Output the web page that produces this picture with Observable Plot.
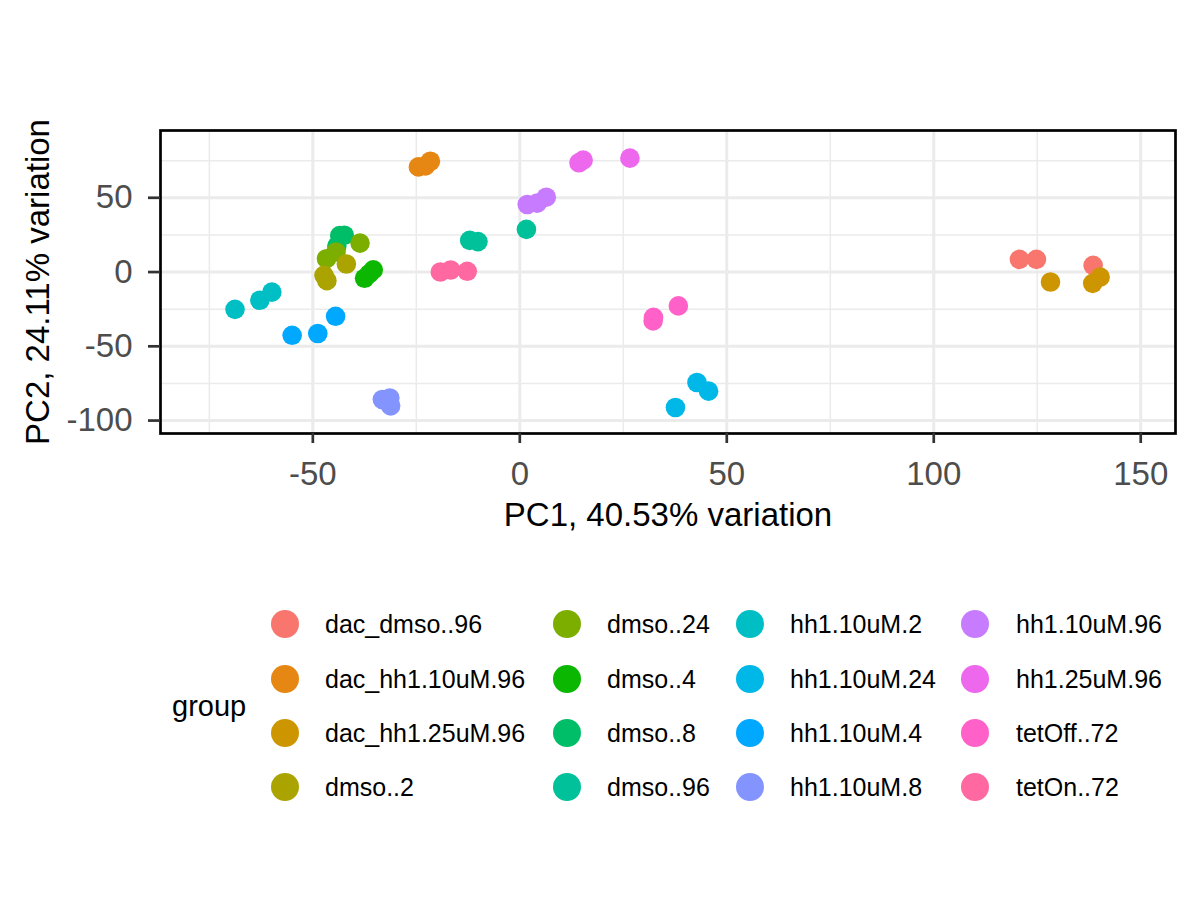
<!DOCTYPE html>
<html>
<head>
<meta charset="utf-8">
<script src="https://cdn.jsdelivr.net/npm/d3@7"></script>
<script src="https://cdn.jsdelivr.net/npm/@observablehq/plot@0.6"></script>
<style>
  html, body { margin: 0; padding: 0; background: white; }
  body { width: 1200px; height: 900px; overflow: hidden; font-family: "Liberation Sans", Arial, sans-serif; }
  #legend { position: relative; width: 1200px; height: 340px; }
  .lg-dot { position: absolute; width: 28px; height: 28px; border-radius: 50%; transform: translate(-50%, -50%); }
  .lg-txt { position: absolute; font-size: 25px; line-height: 25px; transform: translateY(-50%); color: black; white-space: nowrap; }
  .lg-title { position: absolute; font-size: 29px; line-height: 29px; transform: translateY(-50%); color: black; }
</style>
</head>
<body>
<div id="chart"></div>
<div id="legend"></div>
<script>
// ---- data ----
const groups = [
  "dac_dmso..96", "dac_hh1.10uM.96", "dac_hh1.25uM.96", "dmso..2",
  "dmso..24", "dmso..4", "dmso..8", "dmso..96",
  "hh1.10uM.2", "hh1.10uM.24", "hh1.10uM.4", "hh1.10uM.8",
  "hh1.10uM.96", "hh1.25uM.96", "tetOff..72", "tetOn..72"
];
const groupColors = [
  "#F8766D", "#E68613", "#CD9600", "#ABA300",
  "#7CAE00", "#0CB702", "#00BE67", "#00C19A",
  "#00BFC4", "#00B8E7", "#00A9FF", "#8494FF",
  "#C77CFF", "#ED68ED", "#FF61C9", "#FF68A1"
];
const sampleGroup = [
  "dac_dmso..96", "dac_dmso..96", "dac_dmso..96",
  "dac_hh1.10uM.96", "dac_hh1.10uM.96", "dac_hh1.10uM.96",
  "dac_hh1.25uM.96", "dac_hh1.25uM.96", "dac_hh1.25uM.96",
  "dmso..8", "dmso..8", "dmso..8",
  "dmso..24", "dmso..24", "dmso..24",
  "dmso..2", "dmso..2", "dmso..2",
  "dmso..4", "dmso..4", "dmso..4",
  "dmso..96", "dmso..96", "dmso..96",
  "hh1.10uM.2", "hh1.10uM.2", "hh1.10uM.2",
  "hh1.10uM.24", "hh1.10uM.24", "hh1.10uM.24",
  "hh1.10uM.4", "hh1.10uM.4", "hh1.10uM.4",
  "hh1.10uM.8", "hh1.10uM.8", "hh1.10uM.8",
  "hh1.10uM.96", "hh1.10uM.96", "hh1.10uM.96",
  "hh1.25uM.96", "hh1.25uM.96", "hh1.25uM.96",
  "tetOff..72", "tetOff..72", "tetOff..72",
  "tetOn..72", "tetOn..72", "tetOn..72"
];
const pc1 = [
  120.7, 124.8, 138.5,
  -24.5, -22.8, -21.6,
  128.2, 138.4, 140.2,
  -43.5, -42.4, -44.2,
  -46.7, -44.4, -38.6,
  -47.3, -46.6, -41.9,
  -37.5, -36.4, -35.4,
  -12.1, -10.1, 1.6,
  -68.8, -62.8, -59.9,
  37.6, 42.8, 45.6,
  -55.0, -48.8, -44.5,
  -33.2, -31.4, -31.2,
  1.8, 4.2, 6.4,
  14.3, 15.3, 26.6,
  32.3, 32.2, 38.3,
  -19.2, -16.7, -12.7
];
const pc2 = [
  8.5, 8.5, 4.5,
  70.8, 71.5, 74.6,
  -6.7, -7.6, -3.4,
  24.5, 24.8, 17.5,
  9.0, 13.5, 19.5,
  -2.2, -5.8, 5.4,
  -4.2, -1.2, 1.5,
  21.3, 20.5, 28.7,
  -25.1, -19.0, -13.5,
  -91.2, -74.4, -80.2,
  -42.6, -41.4, -29.8,
  -85.8, -84.8, -90.1,
  45.5, 46.4, 50.4,
  73.6, 75.4, 76.7,
  -30.5, -32.9, -22.8,
  0.0, 1.4, 0.5
];
const xMajor = [-50, 0, 50, 100, 150];
const xMinor = [-75, -25, 25, 75, 125];
const yMajor = [-100, -50, 0, 50];
const yMinor = [-75, -25, 25, 75];
const xLabel = "PC1, 40.53% variation";
const yLabel = "PC2, 24.11% variation";
const legendTitle = "group";

const samples = pc1.map((x, i) => ({x, y: pc2[i], group: sampleGroup[i]}));

const FONT = "'Liberation Sans', Arial, sans-serif";

const chart = Plot.plot({
  width: 1200,
  height: 560,
  marginLeft: 160,
  marginRight: 25,
  marginTop: 130,
  marginBottom: 127,
  style: {fontFamily: FONT, background: "white", overflow: "visible"},
  x: {domain: [-86.8, 158.4], axis: null},
  y: {domain: [-108.7, 95.3], axis: null},
  color: {domain: groups, range: groupColors},
  marks: [
    Plot.ruleX(xMinor, {stroke: "#EBEBEB", strokeWidth: 1.5}),
    Plot.ruleY(yMinor, {stroke: "#EBEBEB", strokeWidth: 1.5}),
    Plot.ruleX(xMajor, {stroke: "#EBEBEB", strokeWidth: 3}),
    Plot.ruleY(yMajor, {stroke: "#EBEBEB", strokeWidth: 3}),
    Plot.dot(samples, {x: "x", y: "y", fill: "group", r: 9.8, stroke: null}),
    Plot.frame({stroke: "black", strokeWidth: 2.7}),
    Plot.axisX({ticks: xMajor, tickSize: 10, tickPadding: 18, stroke: "#333333", strokeWidth: 2.7,
      fill: "#4D4D4D", fontSize: 33, label: null, tickFormat: d => String(d)}),
    Plot.axisY({ticks: yMajor, tickSize: 12, tickPadding: 16, stroke: "#333333", strokeWidth: 2.7,
      fill: "#4D4D4D", fontSize: 33, label: null, tickFormat: d => String(d)}),
    Plot.text([xLabel], {text: d => d, frameAnchor: "bottom", lineAnchor: "middle", textAnchor: "middle",
      dy: 82, fontSize: 33, fill: "black"}),
    Plot.text([yLabel], {text: d => d, frameAnchor: "left", lineAnchor: "middle", textAnchor: "middle",
      rotate: -90, dx: -122, fontSize: 33, fill: "black"})
  ]
});
document.getElementById("chart").appendChild(chart);

// ---- legend (HTML, below the SVG) ----
const legend = document.getElementById("legend");
const top0 = 560;
const dotX = [285, 567, 750, 975];
const txtX = [325, 607, 790, 1016];
const rowY = [624, 679, 733, 787];
const t = document.createElement("div");
t.className = "lg-title";
t.textContent = legendTitle;
t.style.left = "172px";
t.style.top = (706 - top0) + "px";
legend.appendChild(t);
groups.forEach((g, i) => {
  const col = Math.floor(i / 4), row = i % 4;
  const d = document.createElement("div");
  d.className = "lg-dot";
  d.style.background = groupColors[i];
  d.style.left = dotX[col] + "px";
  d.style.top = (rowY[row] - top0) + "px";
  legend.appendChild(d);
  const s = document.createElement("div");
  s.className = "lg-txt";
  s.textContent = g;
  s.style.left = txtX[col] + "px";
  s.style.top = (rowY[row] - top0) + "px";
  legend.appendChild(s);
});
</script>
</body>
</html>
